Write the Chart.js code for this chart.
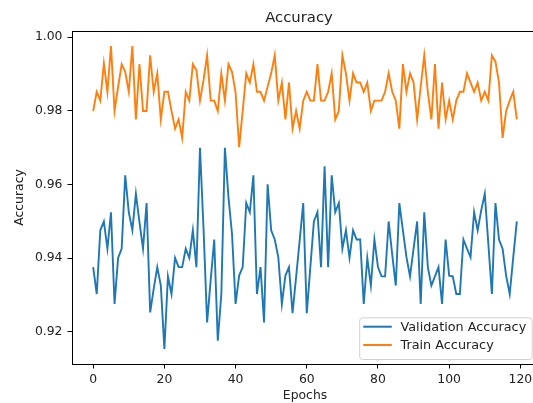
<!DOCTYPE html>
<html>
<head>
<meta charset="utf-8">
<script src="https://cdn.jsdelivr.net/npm/chart.js@4.4.1/dist/chart.umd.min.js"></script>
<style>
  html, body { margin: 0; padding: 0; background: #fff; overflow: hidden; }
  #wrap { position: absolute; left: 0; top: 0; width: 540px; height: 403px; }
</style>
</head>
<body>
<div id="wrap"><canvas id="acc" width="540" height="403"></canvas></div>
<script>
// ------------------------------------------------------------
// data
// ------------------------------------------------------------
const epochs = Array.from({ length: 120 }, (_, i) => i);

const valAcc = [
  0.9376, 0.9303, 0.9476, 0.9500, 0.9426, 0.9525, 0.9276, 0.9401, 0.9426, 0.9625,
  0.9525, 0.9476, 0.9575, 0.9498, 0.9426, 0.9550, 0.9253, 0.9317, 0.9376, 0.9326,
  0.9154, 0.9351, 0.9303, 0.9401, 0.9376, 0.9376, 0.9426, 0.9401, 0.9476, 0.9376,
  0.9700, 0.9480, 0.9226, 0.9340, 0.9451, 0.9176, 0.9303, 0.9700, 0.9566, 0.9466,
  0.9276, 0.9353, 0.9376, 0.9550, 0.9525, 0.9625, 0.9303, 0.9376, 0.9226, 0.9601,
  0.9476, 0.9451, 0.9403, 0.9276, 0.9353, 0.9376, 0.9251, 0.9349, 0.9448, 0.9550,
  0.9251, 0.9376, 0.9500, 0.9525, 0.9376, 0.9650, 0.9376, 0.9625, 0.9525, 0.9550,
  0.9426, 0.9476, 0.9401, 0.9476, 0.9451, 0.9451, 0.9276, 0.9401, 0.9326, 0.9451,
  0.9376, 0.9351, 0.9351, 0.9500, 0.9410, 0.9326, 0.9550, 0.9476, 0.9403, 0.9351,
  0.9426, 0.9500, 0.9276, 0.9525, 0.9376, 0.9326, 0.9351, 0.9376, 0.9276, 0.9451,
  0.9353, 0.9351, 0.9303, 0.9303, 0.9451, 0.9426, 0.9403, 0.9525, 0.9476, 0.9530,
  0.9575, 0.9439, 0.9303, 0.9550, 0.9451, 0.9426, 0.9353, 0.9303, 0.9403, 0.9500
];

const trainAcc = [
  0.9800, 0.9852, 0.9828, 0.9929, 0.9852, 0.9976, 0.9800, 0.9865, 0.9927, 0.9906,
  0.9852, 0.9976, 0.9777, 0.9927, 0.9800, 0.9800, 0.9951, 0.9852, 0.9902, 0.9777,
  0.9852, 0.9852, 0.9800, 0.9752, 0.9777, 0.9727, 0.9852, 0.9828, 0.9927, 0.9911,
  0.9828, 0.9884, 0.9951, 0.9828, 0.9828, 0.9800, 0.9902, 0.9828, 0.9927, 0.9906,
  0.9850, 0.9702, 0.9800, 0.9902, 0.9877, 0.9927, 0.9852, 0.9852, 0.9828, 0.9866,
  0.9902, 0.9951, 0.9828, 0.9877, 0.9777, 0.9877, 0.9752, 0.9800, 0.9752, 0.9828,
  0.9852, 0.9828, 0.9828, 0.9927, 0.9828, 0.9828, 0.9852, 0.9902, 0.9777, 0.9800,
  0.9951, 0.9902, 0.9828, 0.9902, 0.9877, 0.9877, 0.9852, 0.9877, 0.9800, 0.9828,
  0.9828, 0.9828, 0.9852, 0.9902, 0.9852, 0.9828, 0.9752, 0.9927, 0.9852, 0.9902,
  0.9877, 0.9777, 0.9866, 0.9951, 0.9852, 0.9777, 0.9927, 0.9752, 0.9877, 0.9777,
  0.9828, 0.9777, 0.9828, 0.9852, 0.9852, 0.9902, 0.9877, 0.9852, 0.9877, 0.9828,
  0.9852, 0.9828, 0.9951, 0.9934, 0.9877, 0.9727, 0.9800, 0.9828, 0.9852, 0.9777
];

const xTicks = [0, 20, 40, 60, 80, 100, 120];
const yTicks = [0.92, 0.94, 0.96, 0.98, 1.00];

// ------------------------------------------------------------
// look
// ------------------------------------------------------------
const FONT = 'DejaVu Sans';
const INK = '#222';
const BLUE = '#1f77b4';
const ORANGE = '#ff7f0e';

// frame + title + legend, matplotlib style
const mplDecor = {
  id: 'mplDecor',
  afterDraw(chart) {
    const { ctx, chartArea: a } = chart;
    ctx.save();

    // spines
    ctx.strokeStyle = '#000';
    ctx.lineWidth = 1;
    ctx.strokeRect(Math.round(a.left) + 0.5, Math.round(a.top) + 0.5,
      Math.round(a.right - a.left), Math.round(a.bottom - a.top));

    // title
    ctx.fillStyle = INK;
    ctx.font = '14.8px "' + FONT + '"';
    ctx.textAlign = 'center';
    ctx.textBaseline = 'middle';
    ctx.fillText('Accuracy', (a.left + a.right) / 2 - 6, 18.5);

    // legend, lower right
    const items = chart.data.datasets.map(d => ({ label: d.label, color: d.borderColor }));
    ctx.font = '12.8px "' + FONT + '"';
    const textW = Math.max(...items.map(it => ctx.measureText(it.label).width));
    const boxR = a.right - 6.3;
    const boxB = a.bottom - 5;
    const boxW = textW + 41.3 + 5.5;
    const boxH = 41.7;
    const boxL = boxR - boxW;
    const boxT = boxB - boxH;
    ctx.beginPath();
    ctx.roundRect(boxL + 0.5, boxT + 0.5, boxW, boxH, 3);
    ctx.fillStyle = 'rgba(255,255,255,0.8)';
    ctx.fill();
    ctx.strokeStyle = 'rgba(204,204,204,0.9)';
    ctx.lineWidth = 1;
    ctx.stroke();

    ctx.textAlign = 'left';
    items.forEach((it, i) => {
      const cy = boxT + 9.4 + i * 18.3;
      ctx.strokeStyle = it.color;
      ctx.lineWidth = 2;
      ctx.beginPath();
      ctx.moveTo(boxL + 4, cy);
      ctx.lineTo(boxL + 32.6, cy);
      ctx.stroke();
      ctx.fillStyle = INK;
      ctx.fillText(it.label, boxL + 41.3, cy + 0.5);
    });

    ctx.restore();
  }
};

const ctx = document.getElementById('acc');
new Chart(ctx, {
  type: 'line',
  data: {
    labels: epochs,
    datasets: [
      {
        label: 'Validation Accuracy',
        data: valAcc,
        borderColor: BLUE,
        backgroundColor: BLUE,
        borderWidth: 1.9,
        pointRadius: 0,
        tension: 0,
        fill: false,
      },
      {
        label: 'Train Accuracy',
        data: trainAcc,
        borderColor: ORANGE,
        backgroundColor: ORANGE,
        borderWidth: 1.9,
        pointRadius: 0,
        tension: 0,
        fill: false,
      },
    ],
  },
  options: {
    responsive: false,
    animation: false,
    events: [],
    layout: { padding: { top: 31, right: 2, left: 0, bottom: 0 } },
    plugins: {
      legend: { display: false },
      tooltip: { enabled: false },
      title: { display: false },
    },
    scales: {
      x: {
        type: 'linear',
        min: -5.95,
        max: 124.95,
        afterBuildTicks: s => { s.ticks = xTicks.map(v => ({ value: v })); },
        afterFit: s => { s.height = 39; },
        border: { display: false },
        grid: { drawOnChartArea: false, drawTicks: true, tickLength: 4.5, color: '#000' },
        ticks: {
          color: INK,
          padding: 3.5,
          maxRotation: 0,
          font: { family: FONT, size: 12.4 },
          callback: v => String(v),
        },
        title: {
          display: true,
          text: 'Epochs',
          color: INK,
          font: { family: FONT, size: 12.4 },
          padding: { top: 0, bottom: 0 },
        },
      },
      y: {
        min: 0.9113,
        max: 1.0017,
        afterBuildTicks: s => { s.ticks = yTicks.map(v => ({ value: v })); },
        afterFit: s => { s.width = 72; },
        border: { display: false },
        grid: { drawOnChartArea: false, drawTicks: true, tickLength: 4.5, color: '#000' },
        ticks: {
          color: INK,
          padding: 5,
          font: { family: FONT, size: 12.4 },
          callback: v => v.toFixed(2),
        },
        title: {
          display: true,
          text: 'Accuracy',
          color: INK,
          font: { family: FONT, size: 12.4 },
          padding: { top: 12.5, bottom: 0 },
        },
      },
    },
  },
  plugins: [mplDecor],
});
</script>
</body>
</html>
